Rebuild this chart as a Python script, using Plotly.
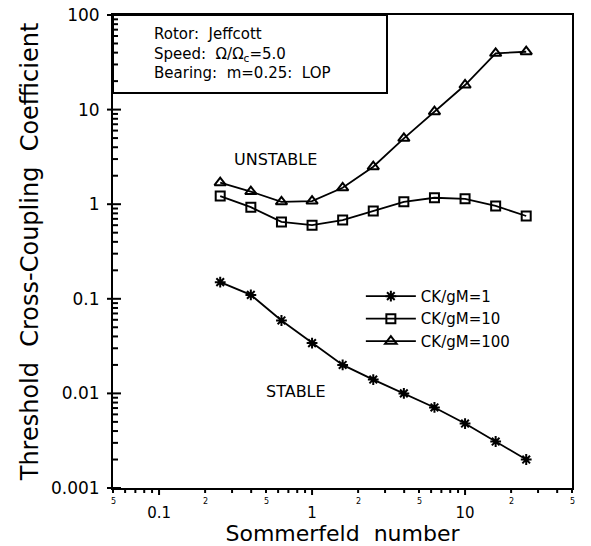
import numpy as np
import plotly.graph_objects as go

# Sommerfeld numbers (log-spaced, 0.2 decade steps)
sommerfeld = [0.251, 0.398, 0.631, 1.0, 1.585, 2.512, 3.981, 6.31, 10.0, 15.85, 25.1]

# Threshold cross-coupling coefficient for each damping ratio
k_ck1 = [0.15, 0.11, 0.059, 0.034, 0.020, 0.014, 0.010, 0.0071, 0.0048, 0.0031, 0.0020]
k_ck10 = [1.22, 0.93, 0.65, 0.60, 0.68, 0.85, 1.06, 1.17, 1.14, 0.96, 0.75]
k_ck100 = [1.69, 1.36, 1.06, 1.08, 1.49, 2.49, 4.97, 9.5, 18.2, 39.4, 40.9]

series_names = ["CK/gM=1", "CK/gM=10", "CK/gM=100"]

# small mantissa labels under the x axis
x_small_vals = [0.05, 0.2, 0.5, 2, 5, 20, 50]
x_small_text = ["5", "2", "5", "2", "5", "2", "5"]

info_text = "Rotor:  Jeffcott<br>Speed:  Ω/Ω<sub>c</sub>=5.0<br>Bearing:  m=0.25:  LOP"

FONT = "DejaVu Sans"
X_RANGE = [np.log10(0.05), np.log10(50)]
Y_RANGE = [-3, 2]
W, H = 591, 546
M = dict(l=113, r=19, t=15, b=58)
PH = H - M["t"] - M["b"]
PW = W - M["l"] - M["r"]

fig = go.Figure()
styles = [
    dict(symbol="asterisk-open", size=9),
    dict(symbol="square-open", size=9),
    dict(symbol="triangle-up-open", size=10),
]
for name, vals, st in zip(series_names, [k_ck1, k_ck10, k_ck100], styles):
    fig.add_trace(go.Scatter(
        x=sommerfeld, y=vals, name=name, mode="lines+markers",
        line=dict(color="black", width=1.8),
        marker=dict(symbol=st["symbol"], size=st["size"], color="black",
                    line=dict(color="black", width=2)),
    ))

fig.update_layout(
    width=W, height=H,
    margin=M,
    paper_bgcolor="white", plot_bgcolor="white",
    font=dict(family=FONT, color="black", size=15),
    showlegend=True,
    legend=dict(x=0.54, y=0.44, xanchor="left", yanchor="top",
                bgcolor="rgba(0,0,0,0)", font=dict(size=15, family=FONT),
                tracegroupgap=0, itemwidth=50),
    xaxis=dict(
        type="log", range=X_RANGE, automargin=False,
        tickmode="linear", tick0=0, dtick=1, ticks="",
        tickfont=dict(size=15, family=FONT), ticklabelstandoff=10,
        showline=True, linecolor="black", linewidth=2, mirror=True,
        showgrid=False, zeroline=False,
        title=dict(text="Sommerfeld  number", font=dict(size=22, family=FONT),
                   standoff=0),
    ),
    yaxis=dict(
        type="log", range=Y_RANGE, automargin=False,
        tickmode="linear", tick0=0, dtick=1, ticks="",
        tickfont=dict(size=17, family=FONT), ticklabelstandoff=8,
        showline=True, linecolor="black", linewidth=2, mirror=True,
        showgrid=False, zeroline=False,
        title=dict(text="Threshold  Cross-Coupling  Coefficient",
                   font=dict(size=24, family=FONT), standoff=6),
    ),
)


def xfrac(v):
    return (np.log10(v) - X_RANGE[0]) / (X_RANGE[1] - X_RANGE[0])


def yfrac(v):
    return (np.log10(v) - Y_RANGE[0]) / (Y_RANGE[1] - Y_RANGE[0])


tick_line = dict(color="black", width=2)

# x-axis tick marks (below the axis line)
for e in range(-2, 2):
    for m in range(1, 10):
        v = m * 10.0 ** e
        f = xfrac(v)
        if f < -1e-9 or f > 1 + 1e-9:
            continue
        ln = 7 if m == 1 else 5
        fig.add_shape(type="line", xref="paper", yref="paper",
                      x0=f, x1=f, y0=-ln / PH, y1=0,
                      line=tick_line, layer="above")

# y-axis tick marks (inside; decades cross the axis)
for e in range(-3, 3):
    for m in range(1, 10):
        v = m * 10.0 ** e
        f = yfrac(v)
        if f < -1e-9 or f > 1 + 1e-9:
            continue
        if m == 1:
            x0, x1 = -6, 8
        else:
            x0, x1 = 0, 5
        fig.add_shape(type="line", xref="paper", yref="paper",
                      y0=f, y1=f, x0=x0 / PW, x1=x1 / PW,
                      line=tick_line, layer="above")

for v, t in zip(x_small_vals, x_small_text):
    fig.add_annotation(x=np.log10(v), xref="x", y=0, yref="paper",
                       yanchor="top", yshift=-7, text=t, showarrow=False,
                       font=dict(size=8, family=FONT))

# Parameter box in the upper-left corner
fig.add_shape(type="rect", xref="paper", yref="paper",
              x0=0, x1=(387 - M["l"]) / PW, y0=(H - M["b"] - 93) / PH, y1=1,
              line=dict(color="black", width=2), fillcolor="white", layer="below")
fig.add_annotation(
    xref="paper", yref="paper", x=(152 - M["l"]) / PW, y=(H - M["b"] - 53) / PH,
    xanchor="left", yanchor="middle", align="left", showarrow=False,
    text=info_text, font=dict(size=15, family=FONT),
)

# Stability region labels
fig.add_annotation(xref="paper", yref="paper", x=(275 - M["l"]) / PW, y=(H - M["b"] - 148) / PH,
                   text="UNSTABLE", showarrow=False, font=dict(size=16, family=FONT))
fig.add_annotation(xref="paper", yref="paper", x=(264 - M["l"]) / PW, y=(H - M["b"] - 403) / PH,
                   text="STABLE", showarrow=False, font=dict(size=16, family=FONT))

fig.write_html("out.html")
